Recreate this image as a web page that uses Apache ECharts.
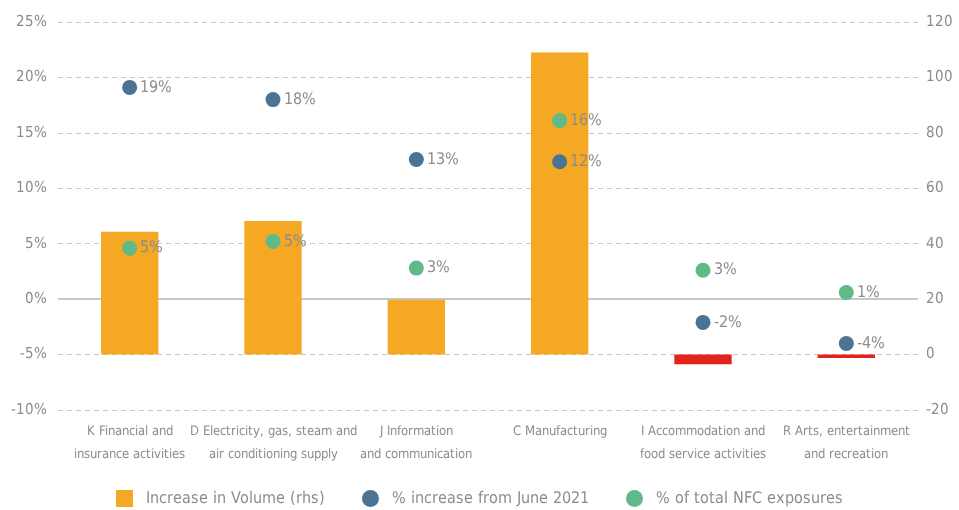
<!DOCTYPE html>
<html lang="en">
<head>
    <meta charset="UTF-8">
    <title>NFC exposures by sector</title>
    <style>
        @font-face {
            font-family: 'Cond';
            src: local('Liberation Sans Narrow'), local('LiberationSansNarrow'), local('DejaVu Sans Condensed'), local('DejaVuSansCondensed');
        }
        body,html{
            margin: 0;
            height: 100%;
            width: 100%;
            background: #fff;
        }
    </style>
</head>
<body>
<div id="main" style="height: 510px; width: 959px;"></div>
<script src="https://cdn.jsdelivr.net/npm/echarts@6/dist/echarts.min.js"></script>
<script>
    var FONT = 'Cond, "DejaVu Sans", sans-serif';

    var sectors = [
        'K Financial and\ninsurance activities',
        'D Electricity, gas, steam and\nair conditioning supply',
        'J Information\nand communication',
        'C Manufacturing',
        'I Accommodation and\nfood service activities',
        'R Arts, entertainment\nand recreation'
    ];
    // rhs
    var volumeIncrease = [44.3, 48.2, 19.8, 109.0, -3.5, -1.2];
    // lhs, %
    var pctIncrease = [19.1, 18.0, 12.6, 12.4, -2.1, -4.0];
    var pctOfTotal = [4.6, 5.2, 2.8, 16.1, 2.6, 0.6];

    var gray = '#8c8c8c';
    var orange = '#f5a823', red = '#e3221a', blue = '#4a7394', green = '#5fba87';

    function draw() {
        var myChart = echarts.init(document.getElementById('main'));

        var dotLabel = {
            show: true,
            position: 'right',
            distance: 3,
            color: gray,
            fontFamily: FONT,
            fontSize: 16,
            formatter: function (p) {
                return Math.round(p.value) + '%';
            }
        };

        myChart.setOption({
            animation: false,
            textStyle: {fontFamily: FONT},
            grid: {left: 58, right: 41, top: 22, bottom: 100},
            legend: {
                top: 485,
                left: 'center',
                itemWidth: 17,
                itemHeight: 17,
                itemGap: 37,
                textStyle: {color: gray, fontSize: 16, fontFamily: FONT, padding: [0, 0, 0, 8]},
                data: [
                    {name: 'Increase in Volume (rhs)', icon: 'rect', itemStyle: {color: orange}},
                    {name: '% increase from June 2021', icon: 'circle', itemStyle: {color: blue}},
                    {name: '% of total NFC exposures', icon: 'circle', itemStyle: {color: green}}
                ]
            },
            xAxis: {
                type: 'category',
                data: sectors,
                axisLine: {show: false},
                axisTick: {show: false},
                axisLabel: {
                    interval: 0,
                    color: gray,
                    fontSize: 13,
                    lineHeight: 23,
                    margin: 10,
                    fontFamily: FONT
                }
            },
            yAxis: [
                {
                    type: 'value',
                    min: -10, max: 25, interval: 5,
                    axisLine: {show: false},
                    axisTick: {show: false},
                    axisLabel: {formatter: '{value}%', color: gray, fontSize: 15, margin: 11, fontFamily: FONT},
                    splitLine: {lineStyle: {color: '#c8c8c8', type: [5, 4], width: 1}}
                },
                {
                    type: 'value',
                    min: -20, max: 120, interval: 20,
                    axisLine: {show: false},
                    axisTick: {show: false},
                    axisLabel: {color: gray, fontSize: 15, margin: 8, fontFamily: FONT},
                    splitLine: {show: false}
                }
            ],
            series: [
                {
                    name: 'Increase in Volume (rhs)',
                    type: 'bar',
                    yAxisIndex: 1,
                    barWidth: '40%',
                    itemStyle: {
                        color: function (p) {
                            return p.value < 0 ? red : orange;
                        }
                    },
                    data: volumeIncrease,
                    z: 2
                },
                {
                    name: '% increase from June 2021',
                    type: 'scatter',
                    yAxisIndex: 0,
                    symbolSize: 15,
                    itemStyle: {color: blue, opacity: 1},
                    label: dotLabel,
                    data: pctIncrease,
                    z: 4,
                    markLine: {
                        silent: true,
                        symbol: 'none',
                        label: {show: false},
                        lineStyle: {color: '#c8c8c8', type: 'solid', width: 2},
                        data: [{yAxis: 0}],
                        z: 1
                    }
                },
                {
                    name: '% of total NFC exposures',
                    type: 'scatter',
                    yAxisIndex: 0,
                    symbolSize: 15,
                    itemStyle: {color: green, opacity: 1},
                    label: dotLabel,
                    data: pctOfTotal,
                    z: 4
                }
            ]
        });
    }

    document.fonts.load('16px Cond').then(draw, draw);
</script>
</body>
</html>
